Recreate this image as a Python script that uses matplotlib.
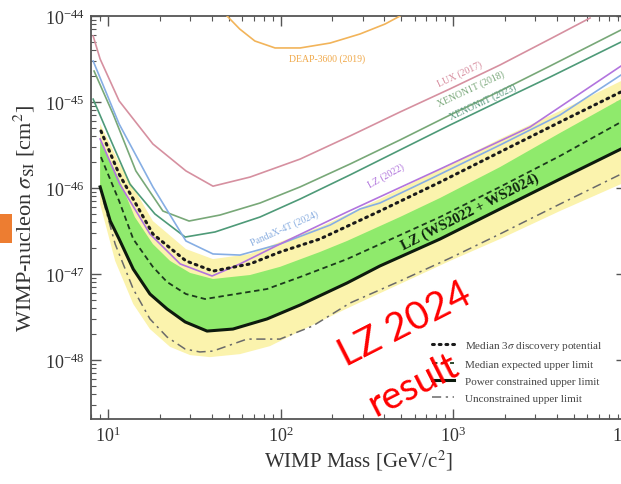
import numpy as np
import matplotlib
matplotlib.use("Agg")
import matplotlib.pyplot as plt
from matplotlib.patches import Rectangle

plt.rcParams['font.family'] = ['Liberation Serif', 'DejaVu Serif']
plt.rcParams['mathtext.fontset'] = 'stix'

# --- data (mass in GeV/c^2, cross section in cm^2) ---
lux_m = [8.2, 9.0, 11.6, 18.2, 28.3, 40.6, 66.6, 130, 253, 493, 960, 1870, 3650, 6230]
lux_s = [5.85e-45, 3.16e-45, 1.03e-45, 3.25e-46, 1.58e-46, 1.05e-46, 1.34e-46, 2.17e-46,
         4.03e-46, 7.65e-46, 1.42e-45, 2.69e-45, 5.40e-45, 9.48e-45]

deap_m = [49, 58, 71, 93, 130, 194, 289, 404, 493]
deap_s = [1.0e-44, 7.06e-45, 5.12e-45, 4.25e-45, 4.25e-45, 4.85e-45, 6.18e-45, 8.07e-45, 1.0e-44]

x1t_m = [8.3, 10.7, 14.5, 20.8, 29.5, 44.6, 76.1, 130, 253, 493, 961, 1873, 3651, 9417]
x1t_s = [2.29e-45, 7.25e-46, 1.58e-46, 5.40e-47, 4.13e-47, 4.85e-47, 6.69e-47, 1.03e-46,
         1.90e-46, 3.62e-46, 7.06e-46, 1.34e-45, 2.62e-45, 6.88e-45]

xnt_m = [8.2, 10.3, 13.4, 18.7, 28.0, 41.7, 76.1, 130, 253, 493, 961, 1873, 3651, 9417]
xnt_s = [1.08e-45, 3.72e-46, 1.11e-46, 4.99e-47, 2.69e-47, 3.08e-47, 4.60e-47, 7.45e-47,
         1.42e-46, 2.77e-46, 5.40e-46, 1.03e-45, 1.95e-45, 4.98e-45]

pandax_m = [8.2, 11.6, 18.2, 28.3, 40.6, 58.2, 99.3, 194, 289, 377, 736, 1873, 4172, 9417]
pandax_s = [3.00e-45, 5.55e-46, 1.03e-46, 2.42e-47, 1.71e-47, 1.66e-47, 2.23e-47, 3.71e-47,
            5.70e-47, 6.69e-47, 1.27e-46, 3.16e-46, 7.06e-46, 2.06e-45]

lz22_m = [9.0, 11.7, 17.5, 26.2, 40.1, 58.2, 99.3, 243, 841, 2795, 9417]
lz22_s = [3.72e-46, 1.11e-46, 2.92e-47, 1.31e-47, 9.48e-48, 1.31e-47, 2.23e-47, 5.26e-47,
          1.66e-46, 5.12e-46, 2.62e-45]

disc_m = [9.1, 11.6, 18.2, 28.3, 40.6, 66.6, 99.3, 169, 377, 841, 1873, 4172, 9417]
disc_s = [4.60e-46, 1.45e-46, 2.92e-47, 1.42e-47, 1.08e-47, 1.31e-47, 1.80e-47, 2.55e-47,
          5.40e-47, 1.17e-46, 2.62e-46, 5.85e-46, 1.31e-45]

med_m = [9.1, 11.6, 14.0, 18.2, 22.0, 28.3, 36.5, 83.5, 130, 243, 841, 1873, 4172, 9417]
med_s = [2.29e-46, 7.06e-47, 2.55e-47, 1.21e-47, 8.07e-48, 5.85e-48, 5.12e-48, 6.69e-48,
         9.23e-48, 1.49e-47, 4.60e-47, 1.03e-46, 2.36e-46, 5.85e-46]

pcl_m = [9.0, 10.3, 11.6, 14.0, 17.5, 22.0, 28.0, 37.5, 53, 83.5, 130, 243, 377, 841,
         1873, 4172, 9417]
pcl_s = [1.03e-46, 4.13e-47, 2.55e-47, 1.14e-47, 5.85e-48, 3.92e-48, 2.77e-48, 2.17e-48,
         2.29e-48, 3.00e-48, 4.36e-48, 7.86e-48, 1.24e-47, 2.55e-47, 5.70e-47, 1.27e-46, 2.84e-46]

unc_m = [9.4, 11.0, 14.0, 17.5, 22.0, 28.0, 34.1, 40.6, 63.9, 99.3, 154, 253, 493, 961,
         1873, 4172, 9417]
unc_s = [7.06e-47, 2.23e-47, 6.69e-48, 3.00e-48, 1.85e-48, 1.34e-48, 1.24e-48, 1.27e-48,
         1.75e-48, 1.75e-48, 2.49e-48, 4.60e-48, 8.29e-48, 1.53e-47, 2.92e-47, 6.51e-47, 1.45e-46]

band1_m = [9.0, 11.6, 14.3, 18.2, 22.9, 29.9, 40.6, 66.6, 99.3, 169, 243, 493, 841, 1873,
           4172, 9417]
band1_s = [3.52e-46, 1.27e-46, 4.60e-47, 2.23e-47, 1.42e-47, 1.03e-47, 8.75e-48, 9.73e-48,
           1.21e-47, 1.80e-47, 2.42e-47, 4.60e-47, 7.65e-47, 1.75e-46, 4.36e-46, 1.08e-45]

band2_up_m = [9.0, 11.7, 18.2, 28.3, 40.6, 66.6, 99.3, 169, 377, 841, 1873, 4172, 9417]
band2_up_s = [5.55e-46, 1.90e-46, 4.13e-47, 1.95e-47, 1.49e-47, 1.71e-47, 2.36e-47, 3.52e-47,
              7.45e-47, 1.66e-46, 3.72e-46, 7.86e-46, 1.75e-45]
band2_lo_m = [9.0, 11.0, 14.0, 17.5, 22.9, 29.9, 39.0, 58.2, 86.9, 130, 253, 493, 961,
              1873, 4172, 9417]
band2_lo_s = [6.51e-47, 1.42e-47, 4.48e-48, 2.29e-48, 1.42e-48, 1.14e-48, 1.08e-48, 1.17e-48,
              1.45e-48, 2.17e-48, 4.13e-48, 7.65e-48, 1.42e-47, 2.55e-47, 5.40e-47, 1.11e-46]

legend_labels = ['Median 3$\\sigma$ discovery potential', 'Median expected upper limit',
                 'Power constrained upper limit', 'Unconstrained upper limit']

W, H = 621, 485
fig = plt.figure(figsize=(W / 100, H / 100), dpi=100)
ax = fig.add_axes((91.3 / W, 1 - 420 / H, (625.5 - 91.3) / W, (420 - 17) / H))
ax.set_xscale('log')
ax.set_yscale('log')
ax.set_xlim(8, 1e4)
ax.set_ylim(2.06e-49, 1e-44)

# bands
ax.fill(np.concatenate([band2_up_m, band2_lo_m[::-1]]),
        np.concatenate([band2_up_s, band2_lo_s[::-1]]), color='#fbf3ad', lw=0, zorder=1)
ax.fill(np.concatenate([band1_m, pcl_m[::-1]]),
        np.concatenate([band1_s, pcl_s[::-1]]), color='#8fea6c', lw=0, zorder=2)

# other experiments
ax.plot(deap_m, deap_s, color='#f2b45a', lw=1.2, zorder=3)
ax.plot(lux_m, lux_s, color='#d690a0', lw=1.2, zorder=3)
ax.plot(x1t_m, x1t_s, color='#78a878', lw=1.2, zorder=3)
ax.plot(xnt_m, xnt_s, color='#4e9a78', lw=1.2, zorder=3)
ax.plot(pandax_m, pandax_s, color='#86aee4', lw=1.2, zorder=3)
ax.plot(lz22_m, lz22_s, color='#b274de', lw=1.2, zorder=3)

# LZ 2024 curves
l1, = ax.plot(disc_m, disc_s, color='#1a1a1a', lw=2.2, ls=(0, (0.6, 1.6)),
              dash_capstyle='round', zorder=5)
l2, = ax.plot(med_m, med_s, color='#1c3a1c', lw=1.3, ls=(0, (3, 2)), zorder=5)
l3, = ax.plot(pcl_m, pcl_s, color='#0d1a0d', lw=2.2, zorder=6)
l4, = ax.plot(unc_m, unc_s, color='#6a6a6a', lw=1.1, ls=(0, (6, 3, 1.5, 3)), zorder=4)

# curve labels
lab = dict(fontsize=7, ha='center', va='center', rotation_mode='anchor', zorder=7)
ax.text(186, 3.25e-45, 'DEAP-3600 (2019)', color='#f0a848', rotation=0, **lab)
ax.text(1098, 2.12e-45, 'LUX (2017)', color='#d68a9c', rotation=25, **lab)
ax.text(1271, 1.46e-45, 'XENON1T (2018)', color='#7aa87a', rotation=25, **lab)
ax.text(1493, 1.03e-45, 'XENONnT (2023)', color='#5a9a80', rotation=25, **lab)
ax.text(409, 1.42e-46, 'LZ (2022)', color='#b074dc', rotation=29, **lab)
ax.text(106, 3.43e-47, 'PandaX-4T (2024)', color='#8aaee0', rotation=24, **lab)
ax.text(1255, 5.40e-47, 'LZ (WS2022 + WS2024)', color='#0e220e', fontsize=10.5,
        fontweight='bold', rotation=27, ha='center', va='center',
        rotation_mode='anchor', zorder=7)

ax.tick_params(which='both', direction='in', top=True, right=True, colors='#555555',
               labelcolor='#333333')
ax.tick_params(which='major', length=7, width=1, labelsize=13, pad=5)
ax.tick_params(which='minor', length=3.5, width=0.8)
for s in ax.spines.values():
    s.set_color('#555555')
    s.set_linewidth(1.3)

ax.set_xlabel('WIMP Mass [GeV/c$^2$]', fontsize=15, color='#333333')
ax.set_ylabel('WIMP-nucleon $\\sigma_{\\rm SI}$ [cm$^2$]', fontsize=16, color='#333333')
ax.xaxis.set_label_coords(0.5, -0.072)
ax.yaxis.set_label_coords(-0.102, 0.5)

leg = ax.legend([l1, l2, l3, l4], legend_labels, loc='upper left',
                bbox_to_anchor=(432 / W, 1 - 340 / H), bbox_transform=fig.transFigure,
                frameon=False, fontsize=8, borderpad=0, borderaxespad=0,
                handlelength=2.0, handletextpad=1.0, labelspacing=0.65)
for t in leg.get_texts():
    t.set_color('#444444')

# slide decorations
fig.add_artist(Rectangle((0, 1 - 244 / H), 12 / W, 29 / H, transform=fig.transFigure,
                         color='#ed7d31', lw=0))
red = dict(color='#ff0000', fontsize=28, family=['Lato', 'DejaVu Sans'], rotation=27,
           ha='center', va='center', rotation_mode='anchor')
fig.text(405 / W, 1 - 325 / H, 'LZ 2024', **red)
fig.text(413 / W, 1 - 385 / H, 'result', **red)

fig.savefig('out.png', dpi=100)
